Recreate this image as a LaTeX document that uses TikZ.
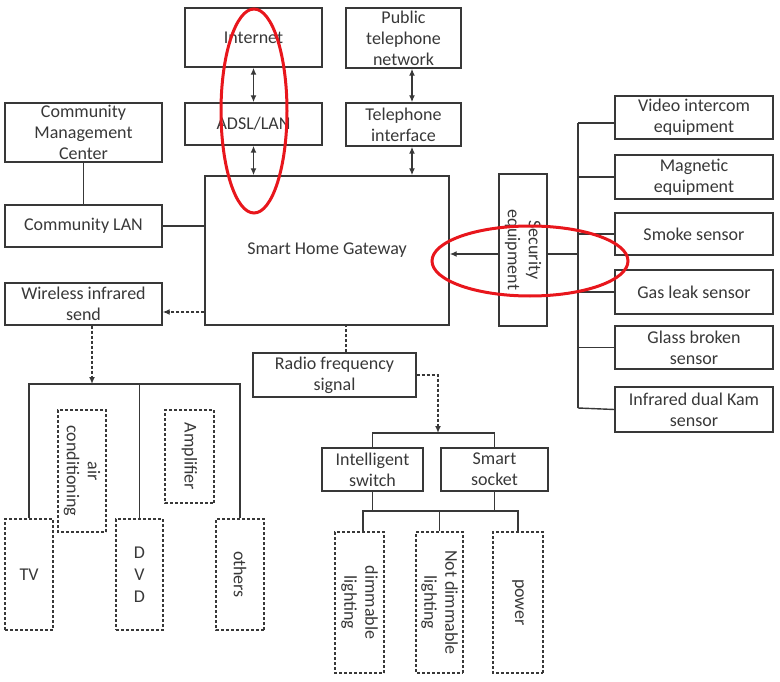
\documentclass[tikz,border=0pt]{standalone}
\usepackage{fontspec}
\setmainfont{Carlito}
\usetikzlibrary{arrows.meta,calc}
\definecolor{ink}{HTML}{383838}
\definecolor{redmark}{HTML}{E8161C}
\begin{document}
\begin{tikzpicture}[x=1pt,y=-1pt,
  box/.style={draw=ink, line width=1.4pt, inner sep=0pt, align=center, text=ink, font=\fontsize{18}{21}\selectfont},
  dbox/.style={box, line width=1.3pt, dash pattern=on 3pt off 2pt},
  link/.style={draw=ink, line width=1.4pt},
  dlink/.style={link, line width=1.3pt, dash pattern=on 3pt off 2pt},
  tip/.style={-{Latex[length=7pt,width=6pt]}},
  dtip/.style={{Latex[length=7pt,width=6pt]}-{Latex[length=7pt,width=6pt]}},
  redring/.style={draw=redmark, line width=3pt}]
\useasboundingbox (0,0) rectangle (780,682);

% top row
\node[box, minimum width=137pt, minimum height=59pt] (inet) at (253.5,37.5) {Internet};
\node[box, minimum width=115pt, minimum height=60pt] (ptn) at (403.5,38) {Public\\telephone\\network};
\node[box, minimum width=137pt, minimum height=42pt] (adsl) at (253.5,124) {ADSL/LAN};
\node[box, minimum width=115pt, minimum height=43pt] (tel) at (403.5,124.5) {Telephone\\interface};

% gateway
\node[box, minimum width=244pt, minimum height=149pt] (gw) at (327,250.5) {Smart Home Gateway};

% left column
\node[box, minimum width=157pt, minimum height=59pt] (cmc) at (83.5,132.5) {Community\\Management\\Center};
\node[box, minimum width=157pt, minimum height=42pt] (clan) at (83.5,226) {Community LAN};
\node[box, minimum width=157pt, minimum height=42pt] (wis) at (83.5,304) {Wireless infrared\\send};

% infrared devices
\node[dbox, minimum width=48pt, minimum height=111pt] (tv) at (29,574.5) {TV};
\node[dbox, rotate=-90, minimum width=122pt, minimum height=48pt] (ac) at (82,471) {air\\conditioning};
\node[dbox, minimum width=47pt, minimum height=111pt, font=\fontsize{18}{22}\selectfont] (dvd) at (139.5,574.5) {D\\V\\D};
\node[dbox, rotate=-90, minimum width=93pt, minimum height=49pt] (amp) at (189.5,456.5) {Amplifier};
\node[dbox, rotate=-90, minimum width=111pt, minimum height=48pt] (oth) at (240,574.5) {others};

% radio frequency branch
\node[box, minimum width=163pt, minimum height=44pt] (rfs) at (334.5,375) {Radio frequency\\signal};
\node[box, minimum width=101pt, minimum height=43pt] (isw) at (372.5,469.5) {Intelligent\\switch};
\node[box, minimum width=107pt, minimum height=43pt] (ssk) at (494.5,469.5) {Smart\\socket};
\node[dbox, rotate=-90, minimum width=141pt, minimum height=49pt] (dim) at (359.5,602.5) {dimmable\\lighting};
\node[dbox, rotate=-90, minimum width=141pt, minimum height=47pt] (ndim) at (439.5,602.5) {Not dimmable\\lighting};
\node[dbox, rotate=-90, minimum width=141pt, minimum height=50pt] (pow) at (518,602.5) {power};

% security
\node[box, rotate=-90, minimum width=152pt, minimum height=48pt] (sec) at (523,250) {Security\\equipment};
\node[box, minimum width=158pt, minimum height=43pt] (vid) at (694,117.5) {Video intercom\\equipment};
\node[box, minimum width=158pt, minimum height=44pt] (mag) at (694,177) {Magnetic\\equipment};
\node[box, minimum width=158pt, minimum height=42pt] (smk) at (694,234) {Smoke sensor};
\node[box, minimum width=158pt, minimum height=44pt] (gas) at (694,292) {Gas leak sensor};
\node[box, minimum width=158pt, minimum height=43pt] (gls) at (694,347.5) {Glass broken\\sensor};
\node[box, minimum width=158pt, minimum height=45pt] (irk) at (694,409.5) {Infrared dual Kam\\sensor};

\coordinate (bT) at (578,123);
\coordinate (bB) at (578,408);
\coordinate (irbus) at (92,384);
\coordinate (rfbus) at (438,433);
\coordinate (lb) at (439.5,511);

% top arrows
\draw[link, dtip] (inet.south) -- (adsl.north);
\draw[link, dtip] (adsl.south) -- (adsl.south |- gw.north);
\draw[link, dtip] ([xshift=8.5pt]ptn.south) -- ([xshift=8.5pt]tel.north);
\draw[link, dtip] ([xshift=8.5pt]tel.south) -- ([xshift=8.5pt]tel.south |- gw.north);

% left links
\draw[link] (cmc.south) -- (clan.north);
\draw[link] (clan.east) -- (clan.east -| gw.west);
\draw[dlink, tip] ([yshift=-8pt]wis.east -| gw.west) -- ([yshift=-8pt]wis.east);
\draw[dlink, tip] (wis.south -| irbus) -- (irbus);
\draw[link] (tv.north) -- (tv.north |- irbus) -- (oth.west |- irbus) -- (oth.west);
\draw[link] (dvd.north) -- (dvd.north |- irbus);

% radio links
\draw[dlink] ([xshift=11.5pt]rfs.north) -- ([xshift=11.5pt]rfs.north |- gw.south);
\draw[dlink, tip] (rfs.east) -| (rfbus);
\draw[link] (isw.north) -- (isw.north |- rfbus) -- (ssk.north |- rfbus) -- (ssk.north);
\draw[link] (isw.south) -- (isw.south |- lb);
\draw[link] (ssk.south) -- (ssk.south |- lb);
\draw[link] ([xshift=3.5pt]dim.west) -- ([xshift=3.5pt]dim.west |- lb) -- (pow.west |- lb) -- (pow.west);
\draw[link] (ndim.west) -- (ndim.west |- lb);

% security links
\draw[link, tip] ([yshift=-4pt]sec.south) -- ([yshift=-4pt]sec.south -| gw.east);
\draw[link] ([yshift=-4pt]sec.north) -- ([yshift=-4pt]sec.north -| bT);
\draw[link] (bT) -- (bB);
\draw[link] ([yshift=-5.5pt]vid.west) -- (bT);
\draw[link] (mag.west) -- (mag.west -| bT);
\draw[link] (smk.west) -- (smk.west -| bT);
\draw[link] (gas.west) -- (gas.west -| bT);
\draw[link] (gls.west) -- (gls.west -| bT);
\draw[link] (irk.west) -- (bB);

% red annotation rings
\draw[redring] (254,111) ellipse [x radius=33pt, y radius=102pt];
\draw[redring] (530,261) ellipse [x radius=98pt, y radius=35pt];
\end{tikzpicture}
\end{document}
